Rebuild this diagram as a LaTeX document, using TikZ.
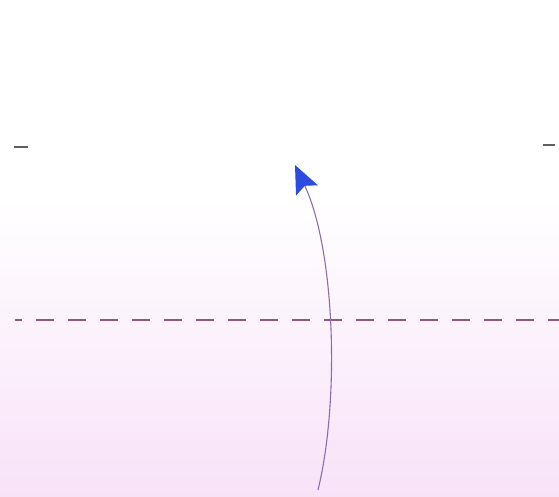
\documentclass[tikz,border=0pt]{standalone}
\usetikzlibrary{arrows.meta}
\definecolor{pinkbg}{RGB}{248,226,248}
\definecolor{curvecol}{RGB}{140,110,165}
\definecolor{dashcol}{RGB}{140,90,125}
\definecolor{tickcol}{RGB}{95,95,95}
\definecolor{headcol}{RGB}{45,75,225}
\tikzset{
  tickline/.style={draw=tickcol, line width=1.2pt},
  levelline/.style={draw=dashcol, line width=1.6pt, dash pattern=on 18pt off 14pt, dash phase=11pt},
  rayline/.style={draw=curvecol, line width=1.1pt, -{Stealth[length=28pt,width=24pt,inset=5pt,color=headcol]}},
}
\begin{document}
\begin{tikzpicture}[x=1pt,y=-1pt]
\useasboundingbox (0,0) rectangle (559,497);
\fill[white] (0,0) rectangle (559,497);
\shade[top color=white, bottom color=pinkbg] (0,200) rectangle (559,497);
\coordinate (tlA) at (14,147);
\coordinate (tlB) at (28,147);
\coordinate (trA) at (543,145);
\coordinate (trB) at (555,145);
\draw[tickline] (tlA) -- (tlB);
\draw[tickline] (trA) -- (trB);
\coordinate (dA) at (15,320);
\coordinate (dB) at (559,320);
\draw[levelline] (dA) -- (dB);
\coordinate (start) at (318,490);
\coordinate (tip) at (295,165);
\draw[rayline] (start) .. controls (340,400) and (335,250) .. (tip);
\end{tikzpicture}
\end{document}
